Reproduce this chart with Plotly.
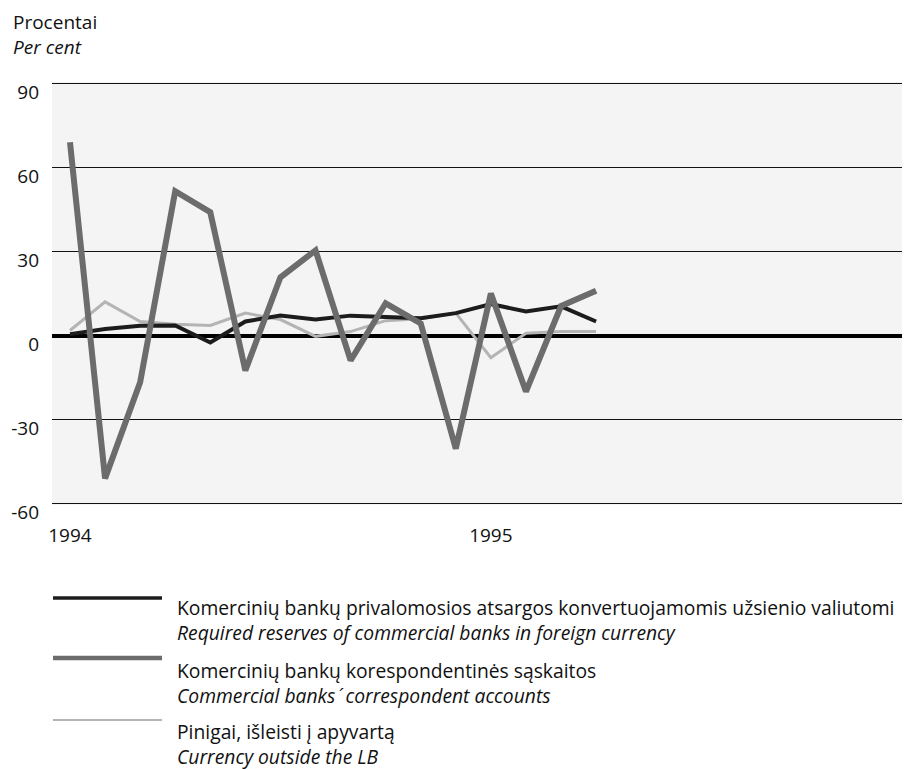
import plotly.graph_objects as go

# Monthly observations, Jan 1994 .. Apr 1995 (index 0..15)
months = list(range(16))
tick_pos = [0, 12]
tick_labels = ["1994", "1995"]
y_ticks = [-60, -30, 0, 30, 60, 90]

required_reserves = [0.5, 2.3, 3.5, 3.6, -2.5, 5.0, 7.1, 5.7, 7.1, 6.6, 6.2, 8.0, 11.2, 8.6, 10.4, 5.0]
correspondent = [69, -51, -16.7, 51.5, 44, -12.5, 20.8, 30.4, -8.9, 11.5, 4.3, -40.4, 15.0, -20, 10.5, 16.0]
currency = [1.8, 12, 5, 4, 3.6, 8, 5.7, -0.3, 1.4, 5.3, 6, 8, -7.9, 0.8, 1.4, 1.4]

names = [
    ("Komercinių bankų privalomosios atsargos konvertuojamomis užsienio valiutomi",
     "Required reserves of commercial banks in foreign currency"),
    ("Komercinių bankų korespondentinės sąskaitos",
     "Commercial banks\u200a´\u2009 correspondent accounts"),
    ("Pinigai, išleisti į apyvartą",
     "Currency outside the LB"),
]
colors = ["#1c1c1c", "#6c6c6c", "#b4b4b4"]
widths = [4, 6, 3]
swatch_widths = [3.5, 4.5, 2]

FONT = "Open Sans"
TXT = "#111"
fig = go.Figure()

series = [required_reserves, correspondent, currency]
for idx in [2, 0, 1]:
    fig.add_trace(go.Scatter(
        x=months, y=series[idx], mode="lines",
        line=dict(color=colors[idx], width=widths[idx]),
        name=names[idx][0], showlegend=False, hoverinfo="skip"))

# page has an 8px body margin; figure is offset by it
fig.update_layout(
    width=902, height=761,
    margin=dict(l=44, r=0, t=74, b=264),
    paper_bgcolor="white", plot_bgcolor="#f4f4f4",
    font=dict(family=FONT, size=19, color=TXT),
    showlegend=False,
)
fig.update_xaxes(
    range=[-0.513, 23.95], tickmode="array", tickvals=tick_pos, ticktext=tick_labels,
    showgrid=False, zeroline=False, showline=False, ticks="",
    ticklabelstandoff=17, tickfont=dict(family=FONT, size=19, color=TXT),
)
fig.update_yaxes(
    range=[-60.5, 90.5], tickmode="array", tickvals=y_ticks,
    ticktext=[str(v) for v in y_ticks],
    showgrid=True, gridcolor="#111", gridwidth=1.3,
    zeroline=True, zerolinecolor="#000", zerolinewidth=3.5,
    showline=False, ticks="", ticklabelshift=9, ticklabelstandoff=12,
    tickfont=dict(family=FONT, size=19, color=TXT),
)

# helpers: page pixel -> paper coordinates
def py(px):
    return 1 - (px - 82) / 423

def px_x(px):
    return (px - 52) / 858

fig.add_annotation(text="Procentai<br><i>Per cent</i>", xref="paper", yref="paper",
                   x=px_x(11), y=py(34), xanchor="left", yanchor="middle", align="left",
                   showarrow=False, font=dict(family=FONT, size=19, color=TXT))

swatch_y = [598, 658, 720]
block_y = [620, 683, 744]
for i in range(3):
    fig.add_shape(type="line", xref="paper", yref="paper",
                  x0=px_x(53), x1=px_x(162), y0=py(swatch_y[i]), y1=py(swatch_y[i]),
                  line=dict(color=colors[i], width=swatch_widths[i]))
    fig.add_annotation(text=names[i][0] + "<br><i>" + names[i][1] + "</i>",
                       xref="paper", yref="paper", align="left",
                       x=px_x(175), y=py(block_y[i]), xanchor="left", yanchor="middle",
                       showarrow=False, font=dict(family=FONT, size=19.3, color=TXT))

fig.write_html("out.html")
